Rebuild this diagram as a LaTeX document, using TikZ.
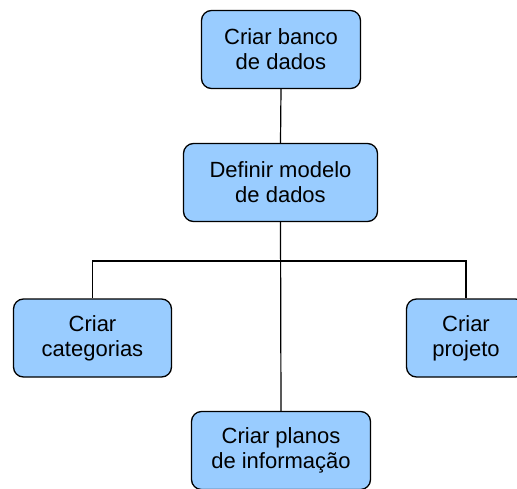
\documentclass[tikz,border=0pt]{standalone}
\usepackage{fontspec}
\setmainfont{Liberation Sans}
\usepackage{tikz}
\usetikzlibrary{positioning,arrows.meta}
\definecolor{boxblue}{HTML}{99CCFF}

\begin{document}
\begin{tikzpicture}[x=1pt,y=-1pt]
  \tikzset{
    task/.style={
      draw, line width=1.3pt, rounded corners=10pt, fill=boxblue,
      minimum height=78pt, inner sep=0pt, align=center,
      font=\fontsize{22pt}{25pt}\selectfont
    },
    link/.style={line width=1.2pt},
  }
\clip (0,0) rectangle (517,488);

\node[task, minimum width=159pt] (banco) at (281,49.5) {Criar banco\\de dados};
\node[task, minimum width=194pt] (modelo) at (280.5,182.5) {Definir modelo\\de dados};
\node[task, minimum width=158pt] (categorias) at (92.5,338) {Criar\\categorias};
\node[task, minimum width=119pt] (projeto) at (466,338) {Criar\\projeto};
\node[task, minimum width=179pt] (planos) at (281,450.5) {Criar planos\\de informação};

\coordinate (bus) at (280,261);

\draw[link] (banco.south) -- (modelo.north);
\draw[link] (modelo.south) -- (planos.north);
\draw[link] (categorias.north) |- (bus) -| (projeto.north);

\end{tikzpicture}
\end{document}
